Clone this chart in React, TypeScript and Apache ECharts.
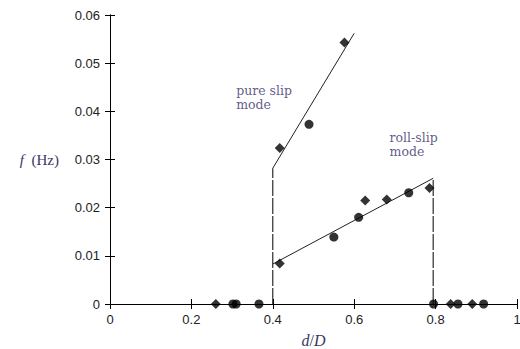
import React, { useEffect, useRef } from "react";
import * as echarts from "echarts";

const xTicks = [0, 0.2, 0.4, 0.6, 0.8, 1];
const yTicks = [0, 0.01, 0.02, 0.03, 0.04, 0.05, 0.06];

const diamondPts: [number, number][] = [
  [0.26, 0], [0.837, 0], [0.89, 0],
  [0.417, 0.0084], [0.627, 0.0215], [0.68, 0.0217], [0.785, 0.0241],
  [0.417, 0.0324], [0.576, 0.0543],
];
const circlePts: [number, number][] = [
  [0.302, 0], [0.31, 0], [0.366, 0], [0.795, 0], [0.855, 0], [0.918, 0],
  [0.55, 0.0139], [0.611, 0.018], [0.734, 0.0231], [0.489, 0.0373],
];
const pureSlipFit: [number, number][] = [[0.4, 0.0282], [0.6, 0.0562]];
const rollSlipFit: [number, number][] = [[0.4, 0.0083], [0.794, 0.0261]];
const leftBoundary: [number, number][] = [[0.4, 0], [0.4, 0.0282]];
const rightBoundary: [number, number][] = [[0.794, 0], [0.794, 0.0261]];
const annotations = [
  { value: [0.31, 0.0458], text: "pure slip\nmode" },
  { value: [0.687, 0.036], text: "roll-slip\nmode" },
];

export default function App() {
  const ref = useRef<HTMLDivElement>(null);
  useEffect(() => {
    if (!ref.current) return;
    const chart = echarts.init(ref.current, null, { renderer: "svg" });
    const axisCommon = {
      min: 0,
      axisLine: { show: true, lineStyle: { color: "#000", width: 1 } },
      axisTick: { show: true, inside: true, length: 5, lineStyle: { color: "#000" } },
      splitLine: { show: false },
    };
    const labelStyle = { color: "#222", fontSize: 13, fontFamily: "Liberation Sans, Arial, sans-serif" };
    chart.setOption({
      animation: false,
      backgroundColor: "#fff",
      grid: { left: 110, top: 15, right: 3, bottom: 45, containLabel: false, outerBoundsMode: "none" },
      xAxis: [
        {
          ...axisCommon,
          type: "value", max: 1, interval: 0.2, position: "bottom",
          axisLabel: { ...labelStyle, margin: 9, formatter: (v: number) => String(xTicks.find((t) => Math.abs(t - v) < 1e-9) ?? v) },
          name: "{i|d}{n|/}{i|D}",
          nameLocation: "middle",
          nameGap: 28,
          nameTextStyle: {
            rich: {
              i: { fontFamily: "Liberation Serif, serif", fontStyle: "italic", fontSize: 16, color: "#3b3566" },
              n: { fontFamily: "Liberation Serif, serif", fontSize: 16, color: "#3b3566" },
            },
          },
        },
        {
          ...axisCommon, type: "value", max: 1, interval: 0.2, position: "top",
          axisLabel: { show: false },
        },
      ],
      yAxis: [
        {
          ...axisCommon,
          type: "value", max: 0.06, interval: 0.01, position: "left",
          axisLabel: { ...labelStyle, margin: 10, formatter: (v: number) => String(yTicks.find((t) => Math.abs(t - v) < 1e-9) ?? v) },
          name: "{i|f}{n|  (Hz)}",
          nameLocation: "middle",
          nameRotate: 0,
          nameGap: 51,
          nameTextStyle: {
            align: "right",
            rich: {
              i: { fontFamily: "Liberation Serif, serif", fontStyle: "italic", fontSize: 15, color: "#3b3566" },
              n: { fontFamily: "Liberation Serif, serif", fontSize: 15, color: "#3b3566" },
            },
          },
        },
        {
          ...axisCommon, type: "value", max: 0.06, interval: 0.01, position: "right",
          axisLabel: { show: false },
        },
      ],
      series: [
        {
          type: "line", data: pureSlipFit, symbol: "none",
          lineStyle: { color: "#222", width: 1 }, z: 2,
        },
        {
          type: "line", data: rollSlipFit, symbol: "none",
          lineStyle: { color: "#222", width: 1 }, z: 2,
        },
        {
          type: "line", data: leftBoundary, symbol: "none",
          lineStyle: { color: "#000", width: 1, type: [16, 2] }, z: 2,
        },
        {
          type: "line", data: rightBoundary, symbol: "none",
          lineStyle: { color: "#000", width: 1, type: [16, 2] }, z: 2,
        },
        {
          type: "scatter", data: diamondPts, symbol: "diamond", symbolSize: 10,
          itemStyle: { color: "#000" }, z: 3,
        },
        {
          type: "scatter", data: circlePts, symbol: "circle", symbolSize: 9,
          itemStyle: { color: "#000" }, z: 3,
        },
        {
          type: "scatter",
          data: annotations.map((a) => ({ value: a.value, label: { formatter: a.text } })),
          symbolSize: 0,
          silent: true,
          label: {
            show: true, position: "right", offset: [0, 0], distance: 0,
            fontFamily: "DejaVu Serif, serif", fontSize: 12.5, lineHeight: 14,
            color: "#3b2f6b", align: "left", verticalAlign: "top",
          },
        },
      ],
    });
    return () => chart.dispose();
  }, []);
  return <div ref={ref} style={{ width: 520, height: 349, position: "absolute", left: 0, top: 0 }} />;
}
